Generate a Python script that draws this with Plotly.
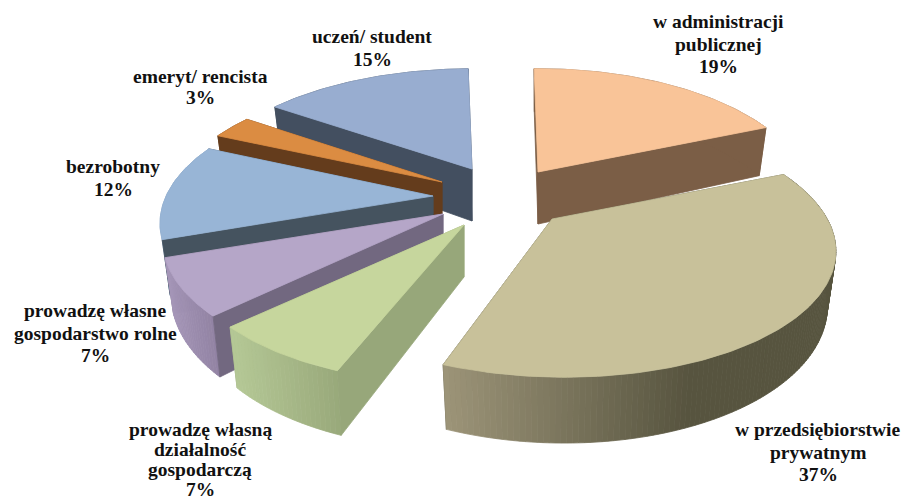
import math
import plotly.graph_objects as go

# --- data, clockwise from the top ---
categories = ["w administracji<br>publicznej", "w przedsiębiorstwie<br>prywatnym",
              "prowadzę własną<br>działalność<br>gospodarczą", "prowadzę własne<br>gospodarstwo rolne",
              "bezrobotny", "emeryt/ rencista", "uczeń/ student"]
values = [19, 37, 7, 7, 12, 3, 15]

# --- styles ---
top_colors = ["#F9C498", "#C8C19A", "#C6D69D", "#B5A6C8", "#98B5D6", "#DB8C42", "#98ADD0"]
wall_colors = ["#7B5E46", "#57543F", "#97A77A", "#726880", "#45535F", "#643C1C", "#434F60"]
rim_left = ["#7B5E46", "#9C9478", "#B4C795", "#A596B8", "#7F9BBB", "#643C1C", "#434F60"]
rim_right = ["#7B5E46", "#57543F", "#98A87A", "#8F80A0", "#7F9BBB", "#643C1C", "#434F60"]
rim_span = [(530, 770), (445, 690), (235, 340), (165, 220), (160, 220), (200, 250), (270, 480)]
# placement of each pulled-out slice on the canvas
tips = [(538, 172), (552, 219), (464, 225), (443, 214), (433, 196), (442, 182), (472, 169)]
x_scale = [0.96, 0.99, 0.98, 0.985, 0.96, 0.96, 0.97]
y_scale = [1.0, 1.0, 1.0, 1.0, 1.0, 0.98, 0.97]
shear = [0.0, 0.08, -0.05, 0.0, 0.0, 0.0, 0.0]
label_pos = [(718, 44), (818, 452), (200, 459), (95, 333), (113, 178), (200, 87), (372, 48)]
label_pitch = [22.5, 22.5, 20, 22.5, 22.5, 21.5, 23]
draw_order = [0, 6, 5, 4, 3, 2, 1]

START = -1.0
K, RX, RY, DEPTH, BOTTOM = 0.21, 278.0, 125.0, 52.0, 0.97


def project(i, theta, drop=False):
    a = math.radians(theta)
    X, Y = math.sin(a), math.cos(a)
    s = 1 / (1 + K * Y)
    dy = -RY * Y * s * y_scale[i]
    dx = RX * X * s * x_scale[i] + shear[i] * dy
    tip = tips[i]
    if drop:
        return tip[0] + dx * BOTTOM, tip[1] + dy + DEPTH * s
    return tip[0] + dx, tip[1] + dy


def hex_rgb(c):
    return [int(c[i:i + 2], 16) for i in (1, 3, 5)]


def mix(c1, c2, t):
    t = max(0.0, min(1.0, t))
    a, b = hex_rgb(c1), hex_rgb(c2)
    return "rgb({},{},{})".format(*[round(a[i] + (b[i] - a[i]) * t) for i in range(3)])


fig = go.Figure()


def poly(pts, color):
    xs = [p[0] for p in pts] + [pts[0][0]]
    ys = [p[1] for p in pts] + [pts[0][1]]
    fig.add_trace(go.Scatter(x=xs, y=ys, mode="lines", fill="toself", fillcolor=color,
                             line=dict(color=color, width=0.8), hoverinfo="skip", showlegend=False))


total = sum(values)
bounds = [START]
for v in values:
    bounds.append(bounds[-1] + 360.0 * v / total)

for i in draw_order:
    t0, t1 = bounds[i], bounds[i + 1]
    tip = tips[i]
    steps = max(2, int(t1 - t0))
    angles = [t0 + (t1 - t0) * j / steps for j in range(steps + 1)]
    tip_low = (tip[0], tip[1] + DEPTH)
    # far radial wall
    poly([tip, project(i, t1), project(i, t1, True), tip_low], wall_colors[i])
    # outer rim wall, shaded left to right
    if rim_left[i] == rim_right[i]:
        poly([project(i, a) for a in angles] + [project(i, a, True) for a in reversed(angles)], rim_left[i])
    else:
        for a0, a1 in zip(angles[:-1], angles[1:]):
            p0, p1 = project(i, a0), project(i, a1)
            xm = (p0[0] + p1[0]) / 2
            f = (xm - rim_span[i][0]) / (rim_span[i][1] - rim_span[i][0])
            poly([p0, p1, project(i, a1, True), project(i, a0, True)], mix(rim_left[i], rim_right[i], f))
    # near radial wall
    poly([tip, project(i, t0), project(i, t0, True), tip_low], wall_colors[i])
    # top face
    poly([tip] + [project(i, a) for a in angles], top_colors[i])

annotations = []
for name, v, (lx, ly), pitch in zip(categories, values, label_pos, label_pitch):
    lines = name.split("<br>") + [f"{v}%"]
    for n, line in enumerate(lines):
        yy = ly + (n - (len(lines) - 1) / 2) * pitch
        annotations.append(dict(x=lx, y=yy, xref="x", yref="y", text=f"<b>{line}</b>",
                                showarrow=False, align="center", xanchor="center", yanchor="middle",
                                font=dict(family="Liberation Serif", size=19.5, color="#111111")))

fig.update_layout(width=903, height=501, margin=dict(l=0, r=0, t=0, b=0),
                  paper_bgcolor="white", plot_bgcolor="white", showlegend=False,
                  annotations=annotations,
                  xaxis=dict(range=[0, 903], visible=False, fixedrange=True),
                  yaxis=dict(range=[501, 0], visible=False, fixedrange=True))
fig.write_html("out.html", config=dict(displayModeBar=False),
               post_script="document.body.style.margin='0';")
